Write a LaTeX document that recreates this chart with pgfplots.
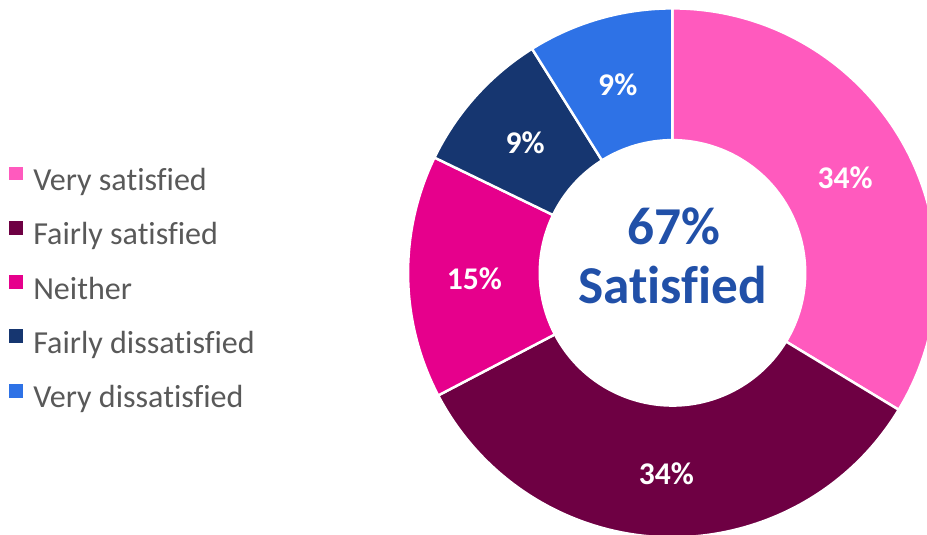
\documentclass[border=0pt]{standalone}
\usepackage{pgfplots}
\usepackage{pgfplotstable}
\pgfplotsset{compat=1.18}
\usepackage{fontspec}
\setmainfont{Carlito}[Ligatures={NoCommon}]

\definecolor{col0}{HTML}{FF5ABE}
\definecolor{col1}{HTML}{6E0043}
\definecolor{col2}{HTML}{E6008C}
\definecolor{col3}{HTML}{163670}
\definecolor{col4}{HTML}{2E72E6}
\definecolor{legtext}{HTML}{595959}
\definecolor{centertext}{HTML}{2150A8}

\pgfplotstableread[col sep=comma]{
label,value
Very satisfied,34
Fairly satisfied,34
Neither,15
Fairly dissatisfied,9
Very dissatisfied,9
}\donutdata

\pgfplotsset{sqleg/.style={legend image code/.code={%
  \fill[##1] (0bp,4bp) rectangle (13bp,17bp);
  \path (24bp,0bp);}}}

\begin{document}
\def\dtotal{0}
\pgfplotsforeachungrouped \i in {0,...,4}{%
  \pgfplotstablegetelem{\i}{value}\of\donutdata
  \pgfmathsetmacro\dtotal{\dtotal+\pgfplotsretval}%
}
\def\dcum{0}
\pgfplotsforeachungrouped \i in {0,...,4}{%
  \pgfplotstablegetelem{\i}{value}\of\donutdata
  \let\dval\pgfplotsretval
  \pgfmathsetmacro\da{\dcum/\dtotal*360}%
  \pgfmathsetmacro\dcum{\dcum+\dval}%
  \pgfmathsetmacro\db{\dcum/\dtotal*360}%
  \expandafter\xdef\csname dA\i\endcsname{\da}%
  \expandafter\xdef\csname dB\i\endcsname{\db}%
  \expandafter\xdef\csname dV\i\endcsname{\dval}%
}
\begin{tikzpicture}
\begin{axis}[
  name=ax,
  scale only axis,
  width=927bp, height=540bp,
  xmin=0, xmax=927, ymin=0, ymax=540,
  hide axis,
  clip=true,
  legend cell align=left,
  legend style={
    at={(axis cs:0,372)}, anchor=north west,
    draw=none, fill=none, inner sep=0pt,
    font=\fontsize{32.5}{37}\selectfont, text=legtext,
    row sep=22.6bp,
    nodes={inner sep=0pt, text height=22bp, text depth=8bp},
  },
]
\addlegendimage{sqleg, color=col0}
\addlegendentry{Very satisfied}
\addlegendimage{sqleg, color=col1}
\addlegendentry{Fairly satisfied}
\addlegendimage{sqleg, color=col2}
\addlegendentry{Neither}
\addlegendimage{sqleg, color=col3}
\addlegendentry{Fairly dissatisfied}
\addlegendimage{sqleg, color=col4}
\addlegendentry{Very dissatisfied}

\pgfplotsinvokeforeach{0,...,4}{
  \path[fill=col#1, draw=white, line width=2.5bp, line join=miter]
    (axis cs:670,264.5) ++({90-\csname dA#1\endcsname}:267bp)
    arc[start angle={90-\csname dA#1\endcsname}, end angle={90-\csname dB#1\endcsname}, radius=267bp]
    -- ++({270-\csname dB#1\endcsname}:133bp)
    arc[start angle={90-\csname dB#1\endcsname}, end angle={90-\csname dA#1\endcsname}, radius=134bp]
    -- cycle;
}
\pgfplotsinvokeforeach{0,...,4}{
  \path (axis cs:670,262) ++({90-(\csname dA#1\endcsname+\csname dB#1\endcsname)/2}:200bp)
    node[text=white, font=\bfseries\fontsize{32}{32}\selectfont] {\csname dV#1\endcsname\%};
}
\node[anchor=base, text=centertext, font=\bfseries\fontsize{54}{54}\selectfont] at (axis cs:671,293) {67\%};
\node[anchor=base, text=centertext, font=\bfseries\fontsize{54}{54}\selectfont] at (axis cs:670,234) {Satisfied};
\end{axis}
\pgfresetboundingbox
\path[use as bounding box] (ax.south west) rectangle (ax.north east);
\end{tikzpicture}
\end{document}
